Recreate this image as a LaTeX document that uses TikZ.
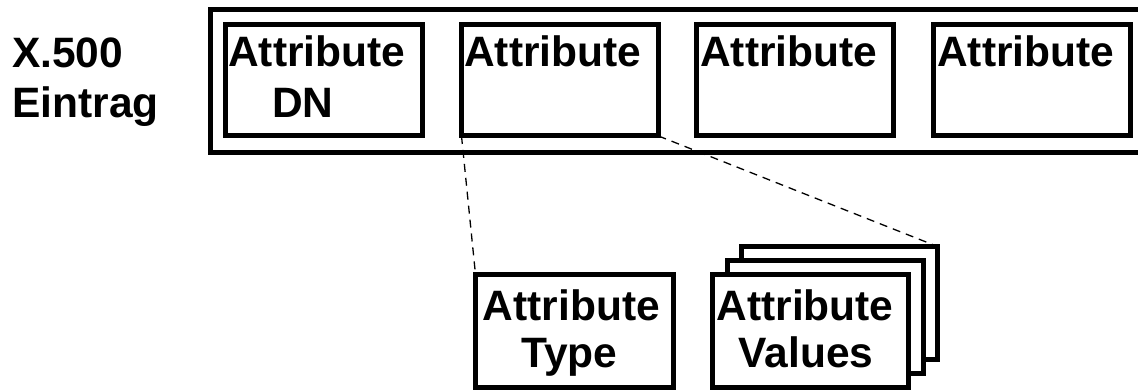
\documentclass[tikz,border=0pt]{standalone}
\usepackage{fontspec}
\setmainfont{Liberation Sans}
\begin{document}
\begin{tikzpicture}[x=1pt,y=-1pt,
  box/.style={draw=black,line width=5pt,fill=white,rectangle,inner sep=0pt,outer sep=0pt,
    minimum width=197pt,minimum height=111.5pt},
  lbl/.style={inner sep=0pt,font=\fontsize{42.5}{48}\selectfont\bfseries},
  link/.style={draw=black,line width=1.3pt,dash pattern=on 8pt off 6pt}]
\clip (0,0) rectangle (1138,390);
% outer entry box (right edge runs off the picture)
\node[draw=black,line width=5pt,rectangle,inner sep=0pt,
  minimum width=940pt,minimum height=143.5pt] (outer) at (680,81.25) {};
% four attribute boxes
\node[box] (b1) at (324,80.25) {};
\node[box] (b2) at (560,80.25) {};
\node[box] (b3) at (795,80.25) {};
\node[box] (b4) at (1031.5,80.25) {};
% lower boxes
\node[box,minimum width=198pt,minimum height=112.5pt] (type) at (574.5,330.75) {};
\node[box,minimum width=196pt,minimum height=112.5pt] (vback) at (839.5,302.75) {};
\node[box,minimum width=196pt,minimum height=112.5pt] (vmid) at (825,316.75) {};
\node[box,minimum width=196pt,minimum height=112.5pt] (vfront) at (810.5,330.75) {};
% texts
\node[lbl,anchor=base west] (t1) at (12,68) {X.500};
\node[lbl,anchor=base west] (t2) at (12,118) {Eintrag};
\node[lbl,anchor=base west] (a1) at (228,67) {Attribute};
\node[lbl,anchor=base west] (dn) at (272,118) {DN};
\node[lbl,anchor=base west] (a2) at (464,67) {Attribute};
\node[lbl,anchor=base west] (a3) at (700,67) {Attribute};
\node[lbl,anchor=base west] (a4) at (937,67) {Attribute};
\node[lbl,anchor=base] (ta) at (571.5,320) {Attribute};
\node[lbl,anchor=base] (tt) at (569.5,367) {Type};
\node[lbl,anchor=base] (va) at (805,320) {Attribute};
\node[lbl,anchor=base] (vv) at (806,367) {Values};
% dashed connectors
\draw[link] (b2.south west) -- (type.north west);
\draw[link] (b2.south east) -- (vback.north east);
\end{tikzpicture}
\end{document}
